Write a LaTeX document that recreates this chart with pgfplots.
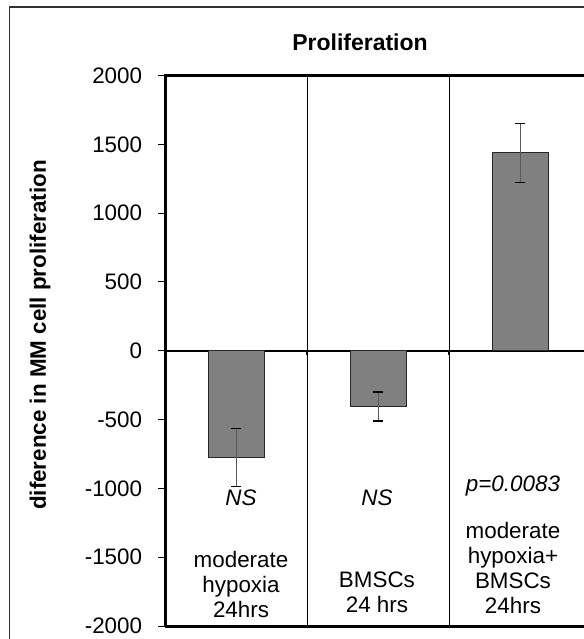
\documentclass[border=0pt]{standalone}
\usepackage{fontspec}
\setmainfont{Liberation Sans}
\usepackage{pgfplots}
\pgfplotsset{compat=1.18}
\begin{document}
\begin{tikzpicture}
\useasboundingbox (-82.75pt,-6.5pt) rectangle (209.25pt,313pt);
\clip (-82.75pt,-6.5pt) rectangle (209.25pt,313pt);
\fill[white] (-82.75pt,-6.5pt) rectangle (209.25pt,313pt);
\draw[line width=0.8pt, black!80] (-78pt,-20pt) rectangle (230pt,309.5pt);
\begin{axis}[
  at={(0,0)}, anchor=south west,
  scale only axis, width=213pt, height=275.25pt,
  xmin=-0.5, xmax=2.5, ymin=-2000, ymax=2000,
  ytick={-2000,-1500,...,2000},
  xtick=\empty,
  ytick pos=left,
  tick align=outside,
  major tick length=3.5pt,
  tick style={black, line width=0.5pt},
  axis line style={draw=none},
  /pgf/number format/assume math mode=true,
  /pgf/number format/1000 sep={},
  yticklabel style={font=\fontsize{11.2}{12}\selectfont, inner sep=0pt, xshift=-8pt},
  clip=false,
]
\draw[line width=1pt] (axis cs:-0.5,0) -- (axis cs:2.5,0);
\draw[line width=0.5pt] (axis cs:0.5,-2000) -- (axis cs:0.5,2000);
\draw[line width=0.5pt] (axis cs:1.5,-2000) -- (axis cs:1.5,2000);
\draw[line width=1pt] (axis cs:0.5,0) -- (axis cs:0.5,-30);
\draw[line width=1pt] (axis cs:1.5,0) -- (axis cs:1.5,-30);
\addplot[ybar, bar width=0.4, fill=black!50, draw=black!85, line width=0.5pt,
  error bars/.cd, y dir=both, y explicit,
  error bar style={line width=0.9pt, black!65},
  error mark options={rotate=90, mark size=2.5pt, line width=0.8pt, black}]
  coordinates {(0,-775) +- (0,210) (1,-405) +- (0,105) (2,1437) +- (0,215)};
\draw[line width=1.5pt] (axis cs:-0.5,-2000) -- (axis cs:-0.5,2000) -- (axis cs:2.5,2000);
\draw[line width=1.5pt] (axis cs:-0.5,-2000) -- (axis cs:2.5,-2000);
\node[font=\fontsize{11.2}{12}\selectfont\itshape, anchor=base] at (axis cs:0.032,-1126) {NS};
\node[font=\fontsize{11.2}{12}\selectfont\itshape, anchor=base] at (axis cs:0.989,-1126) {NS};
\node[font=\fontsize{11.2}{12}\selectfont\itshape, anchor=base] at (axis cs:1.947,-1025) {p=0.0083};
\node[font=\fontsize{11.2}{12.5}\selectfont, align=center, anchor=south, inner sep=0pt] at (axis cs:0.032,-1940) {moderate\\hypoxia\\24hrs};
\node[font=\fontsize{11.2}{12.5}\selectfont, align=center, anchor=south, inner sep=0pt] at (axis cs:0.989,-1904) {BMSCs\\24 hrs};
\node[font=\fontsize{11.2}{12.6}\selectfont, align=center, anchor=south, inner sep=0pt] at (axis cs:1.947,-1915) {moderate\\hypoxia+\\BMSCs\\24hrs};
\node[font=\fontsize{11.5}{12}\selectfont\bfseries, anchor=center] at (axis description cs:0.4566,1.0609) {Proliferation};
\node[font=\fontsize{11.2}{12}\selectfont\bfseries, anchor=center, rotate=90] at (axis description cs:-0.2946,0.5286) {diference in MM cell proliferation};
\end{axis}
\end{tikzpicture}
\end{document}
